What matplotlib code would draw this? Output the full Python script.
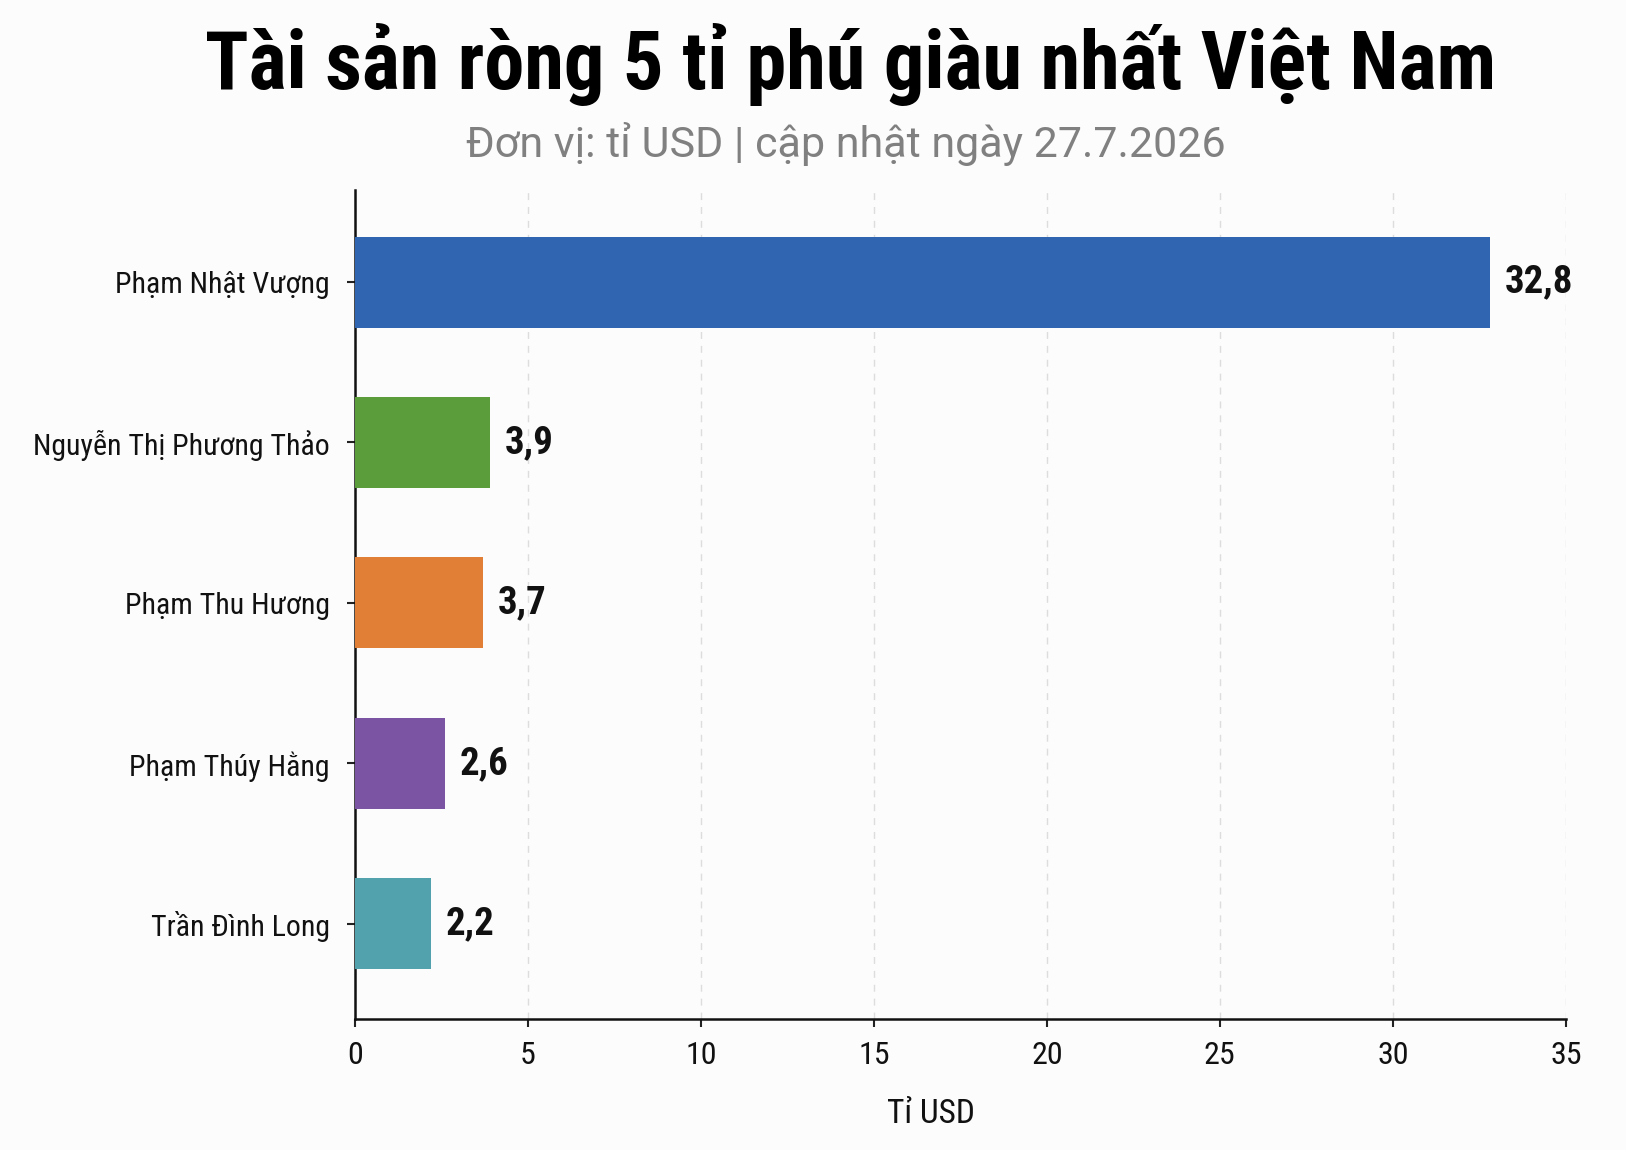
import matplotlib
matplotlib.use("Agg")
import matplotlib.pyplot as plt

names = ["Phạm Nhật Vượng", "Nguyễn Thị Phương Thảo", "Phạm Thu Hương", "Phạm Thúy Hằng", "Trần Đình Long"]
values = [32.8, 3.9, 3.7, 2.6, 2.2]
value_labels = ["32,8", "3,9", "3,7", "2,6", "2,2"]
colors = ["#2F65B1", "#5B9D3B", "#E07F35", "#7B54A3", "#52A2AD"]
xticks = [0, 5, 10, 15, 20, 25, 30, 35]

title = "Tài sản ròng 5 tỉ phú giàu nhất Việt Nam"
subtitle = "Đơn vị: tỉ USD | cập nhật ngày 27.7.2026"
xlabel = "Tỉ USD"

plt.rcParams['font.family'] = ["Roboto Condensed", "DejaVu Sans"]

BG = "#FCFCFC"
fig = plt.figure(figsize=(16.26, 11.5), dpi=100, facecolor=BG)
ax = fig.add_axes([0.2183, 0.1139, 0.963 - 0.2183, 0.8348 - 0.1139])
ax.set_facecolor(BG)

ypos = list(range(len(names)))
ax.barh(ypos, values, height=0.567, color=colors, zorder=3)
ax.set_ylim(4.594, -0.574)
ax.set_xlim(0, 35)
ax.set_yticks(ypos)
ax.set_yticklabels(names, fontsize=21.5)
ax.set_xticks(xticks)
ax.set_xticklabels([str(t) for t in xticks], fontsize=23)
ax.tick_params(axis="both", length=6, width=1.5, color="#222222", labelcolor="#111111")
ax.tick_params(axis="y", pad=12)
ax.tick_params(axis="x", pad=10)

for s in ["top", "right"]:
    ax.spines[s].set_visible(False)
for s in ["left", "bottom"]:
    ax.spines[s].set_linewidth(1.8)
    ax.spines[s].set_color("#111111")

ax.grid(axis="x", linestyle=(0, (5, 5)), color="#DDDDDD", linewidth=1, zorder=0)
ax.set_axisbelow(True)

for y, v, lab in zip(ypos, values, value_labels):
    ax.text(v + 0.42, y, lab, va="center", ha="left", fontsize=28, fontweight="bold", color="#111111")

ax.set_xlabel(xlabel, fontsize=24, color="#111111")
ax.xaxis.set_label_coords(0.476, -0.095)

fig.text(0.523, 0.9226, title, ha="center", va="baseline", fontsize=58, fontweight="bold", color="#000000")
fig.text(0.52, 0.8635, subtitle, ha="center", va="baseline", fontsize=31, color="#808080",
         family=["Roboto", "DejaVu Sans"])

fig.savefig("out.png", dpi=100, facecolor=fig.get_facecolor())
